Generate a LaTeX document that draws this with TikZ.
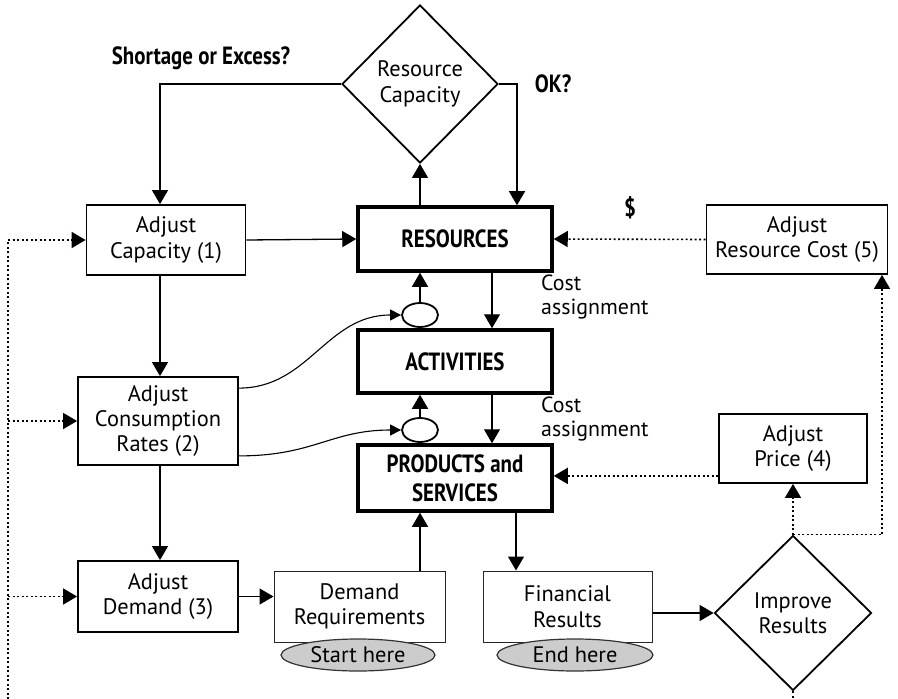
\documentclass[tikz,border=0pt]{standalone}
\usepackage{fontspec}
\setmainfont{PT Sans}
\newfontfamily\cbfont{PT Sans}[FakeStretch=0.84]
\usetikzlibrary{shapes.geometric,arrows.meta}
\begin{document}
\begin{tikzpicture}[x=1bp,y=-1bp,
  every node/.style={font=\fontsize{22.5}{25.5}\selectfont, align=center, inner sep=0pt},
  box/.style={draw, line width=1.8bp, rectangle},
  thickbox/.style={draw, line width=3.5bp, rectangle, font=\cbfont\bfseries\fontsize{25}{29}\selectfont},
  thinbox/.style={draw=black!85, line width=1bp, rectangle},
  dia/.style={draw, diamond, line width=1.8bp},
  oval/.style={draw, ellipse, line width=1.8bp},
  tag/.style={draw=black!80, ellipse, fill=black!20, line width=1.2bp},
  arr/.style={-{Triangle[length=14bp,width=16bp]}, line width=1.3bp},
  sarr/.style={-{Triangle[length=11bp,width=11bp]}, line width=1.1bp},
  dot/.style={line width=1.6bp, dash pattern=on 2bp off 2.5bp},
  darr/.style={dot, -{Triangle[length=14bp,width=16bp]}},
  lbl/.style={font=\cbfont\bfseries\fontsize{25}{29}\selectfont},
  note/.style={anchor=west, align=left, font=\fontsize{22}{23.5}\selectfont}
]
\useasboundingbox (0,0) rectangle (898,699);

% nodes
\node[dia, minimum width=156bp, minimum height=158bp] (rc) at (420,84) {Resource\\Capacity};
\node[lbl] (q1) at (201,58) {Shortage or Excess?};
\node[lbl] (q2) at (553,84) {OK?};
\node[box, minimum width=159bp, minimum height=70bp] (cap) at (166,240) {Adjust\\Capacity (1)};
\node[thickbox, minimum width=194bp, minimum height=64bp] (res) at (455,239) {RESOURCES};
\node[lbl] (dollar) at (630,208) {\$};
\node[box, minimum width=181bp, minimum height=69bp] (arc) at (797,239.5) {Adjust\\Resource Cost (5)};
\node[oval, minimum width=36bp, minimum height=24bp] (o1) at (420,315) {};
\node[thickbox, minimum width=194bp, minimum height=63bp] (act) at (455,361.5) {ACTIVITIES};
\node[note] (ca1) at (541,297) {Cost\\assignment};
\node[note] (ca2) at (541,419) {Cost\\assignment};
\node[box, minimum width=160bp, minimum height=88bp] (cons) at (158,421) {Adjust\\Consumption\\Rates (2)};
\node[oval, minimum width=36bp, minimum height=24bp] (o2) at (420,430) {};
\node[thickbox, minimum width=194bp, minimum height=66bp] (prod) at (455,478) {PRODUCTS and\\SERVICES};
\node[box, minimum width=148bp, minimum height=69bp] (price) at (793,448.5) {Adjust\\Price (4)};
\node[box, minimum width=160bp, minimum height=71bp] (dem) at (158,596.5) {Adjust\\Demand (3)};
\node[thinbox, minimum width=171bp, minimum height=71bp] (dreq) at (359.5,606.5) {Demand\\Requirements};
\node[thinbox, minimum width=169bp, minimum height=71bp] (fin) at (567.5,606.5) {Financial\\Results};
\node[tag, minimum width=154bp, minimum height=32bp] (start) at (358,655) {Start here};
\node[tag, minimum width=156bp, minimum height=32bp] (end) at (575,655) {End here};
\node[dia, minimum width=157bp, minimum height=155bp] (imp) at (793,613) {Improve\\Results};

% helper coordinates
\coordinate (lx) at (160,0);
\coordinate (rx) at (517,0);
\coordinate (dx) at (492,0);
\coordinate (ux) at (420,0);
\coordinate (fx) at (516,0);
\coordinate (ax) at (882,0);
\coordinate (lb) at (8,699);
\coordinate (ib) at (793,699);

% connectors
\draw[arr] (rc.west) -| (cap.north -| lx);
\draw[arr] (rc.east) -| (res.north -| rx);
\draw[arr] (res.north -| ux) -- (rc.south);
\draw[arr] (cap.east) -- (res.west);
\draw[darr] (arc.west) -- (res.east);
\draw[arr] (cap.south -| lx) -- (cons.north -| lx);
\draw[arr] (cons.south -| lx) -- (dem.north -| lx);
\draw[arr] (res.south -| dx) -- (act.north -| dx);
\draw[arr] (act.south -| dx) -- (prod.north -| dx);
\draw[arr] (o1.north) -- (res.south -| o1.north);
\draw[arr] (o2.north) -- (act.south -| o2.north);
\coordinate (c1) at ([yshift=-12bp]cons.north east);
\draw[sarr] (c1) .. controls +(70,0) and +(-75,0) .. (o1.west);
\coordinate (c2) at ([yshift=10bp]cons.south east);
\draw[sarr] (c2) .. controls +(75,0) and +(-70,0) .. (o2.west);
\draw[arr] (dem.east) -- (dem.east -| dreq.west);
\draw[arr] (dreq.north -| ux) -- (prod.south -| ux);
\draw[arr] (prod.south -| fx) -- (fin.north -| fx);
\draw[arr] (fin.east |- imp.west) -- (imp.west);
\draw[darr] (imp.north) -- (price.south);
\draw[darr] (imp.north) -| (arc.south -| ax);
\draw[dot] (imp.south) -- (ib);
\draw[darr] (lb) |- (cap.west);
\draw[darr] (cons.west -| lb) -- (cons.west);
\draw[darr] (dem.west -| lb) -- (dem.west);
\coordinate (p4) at ([yshift=8bp]price.south west);
\draw[darr] (p4) -- (p4 -| prod.east);
\end{tikzpicture}
\end{document}
